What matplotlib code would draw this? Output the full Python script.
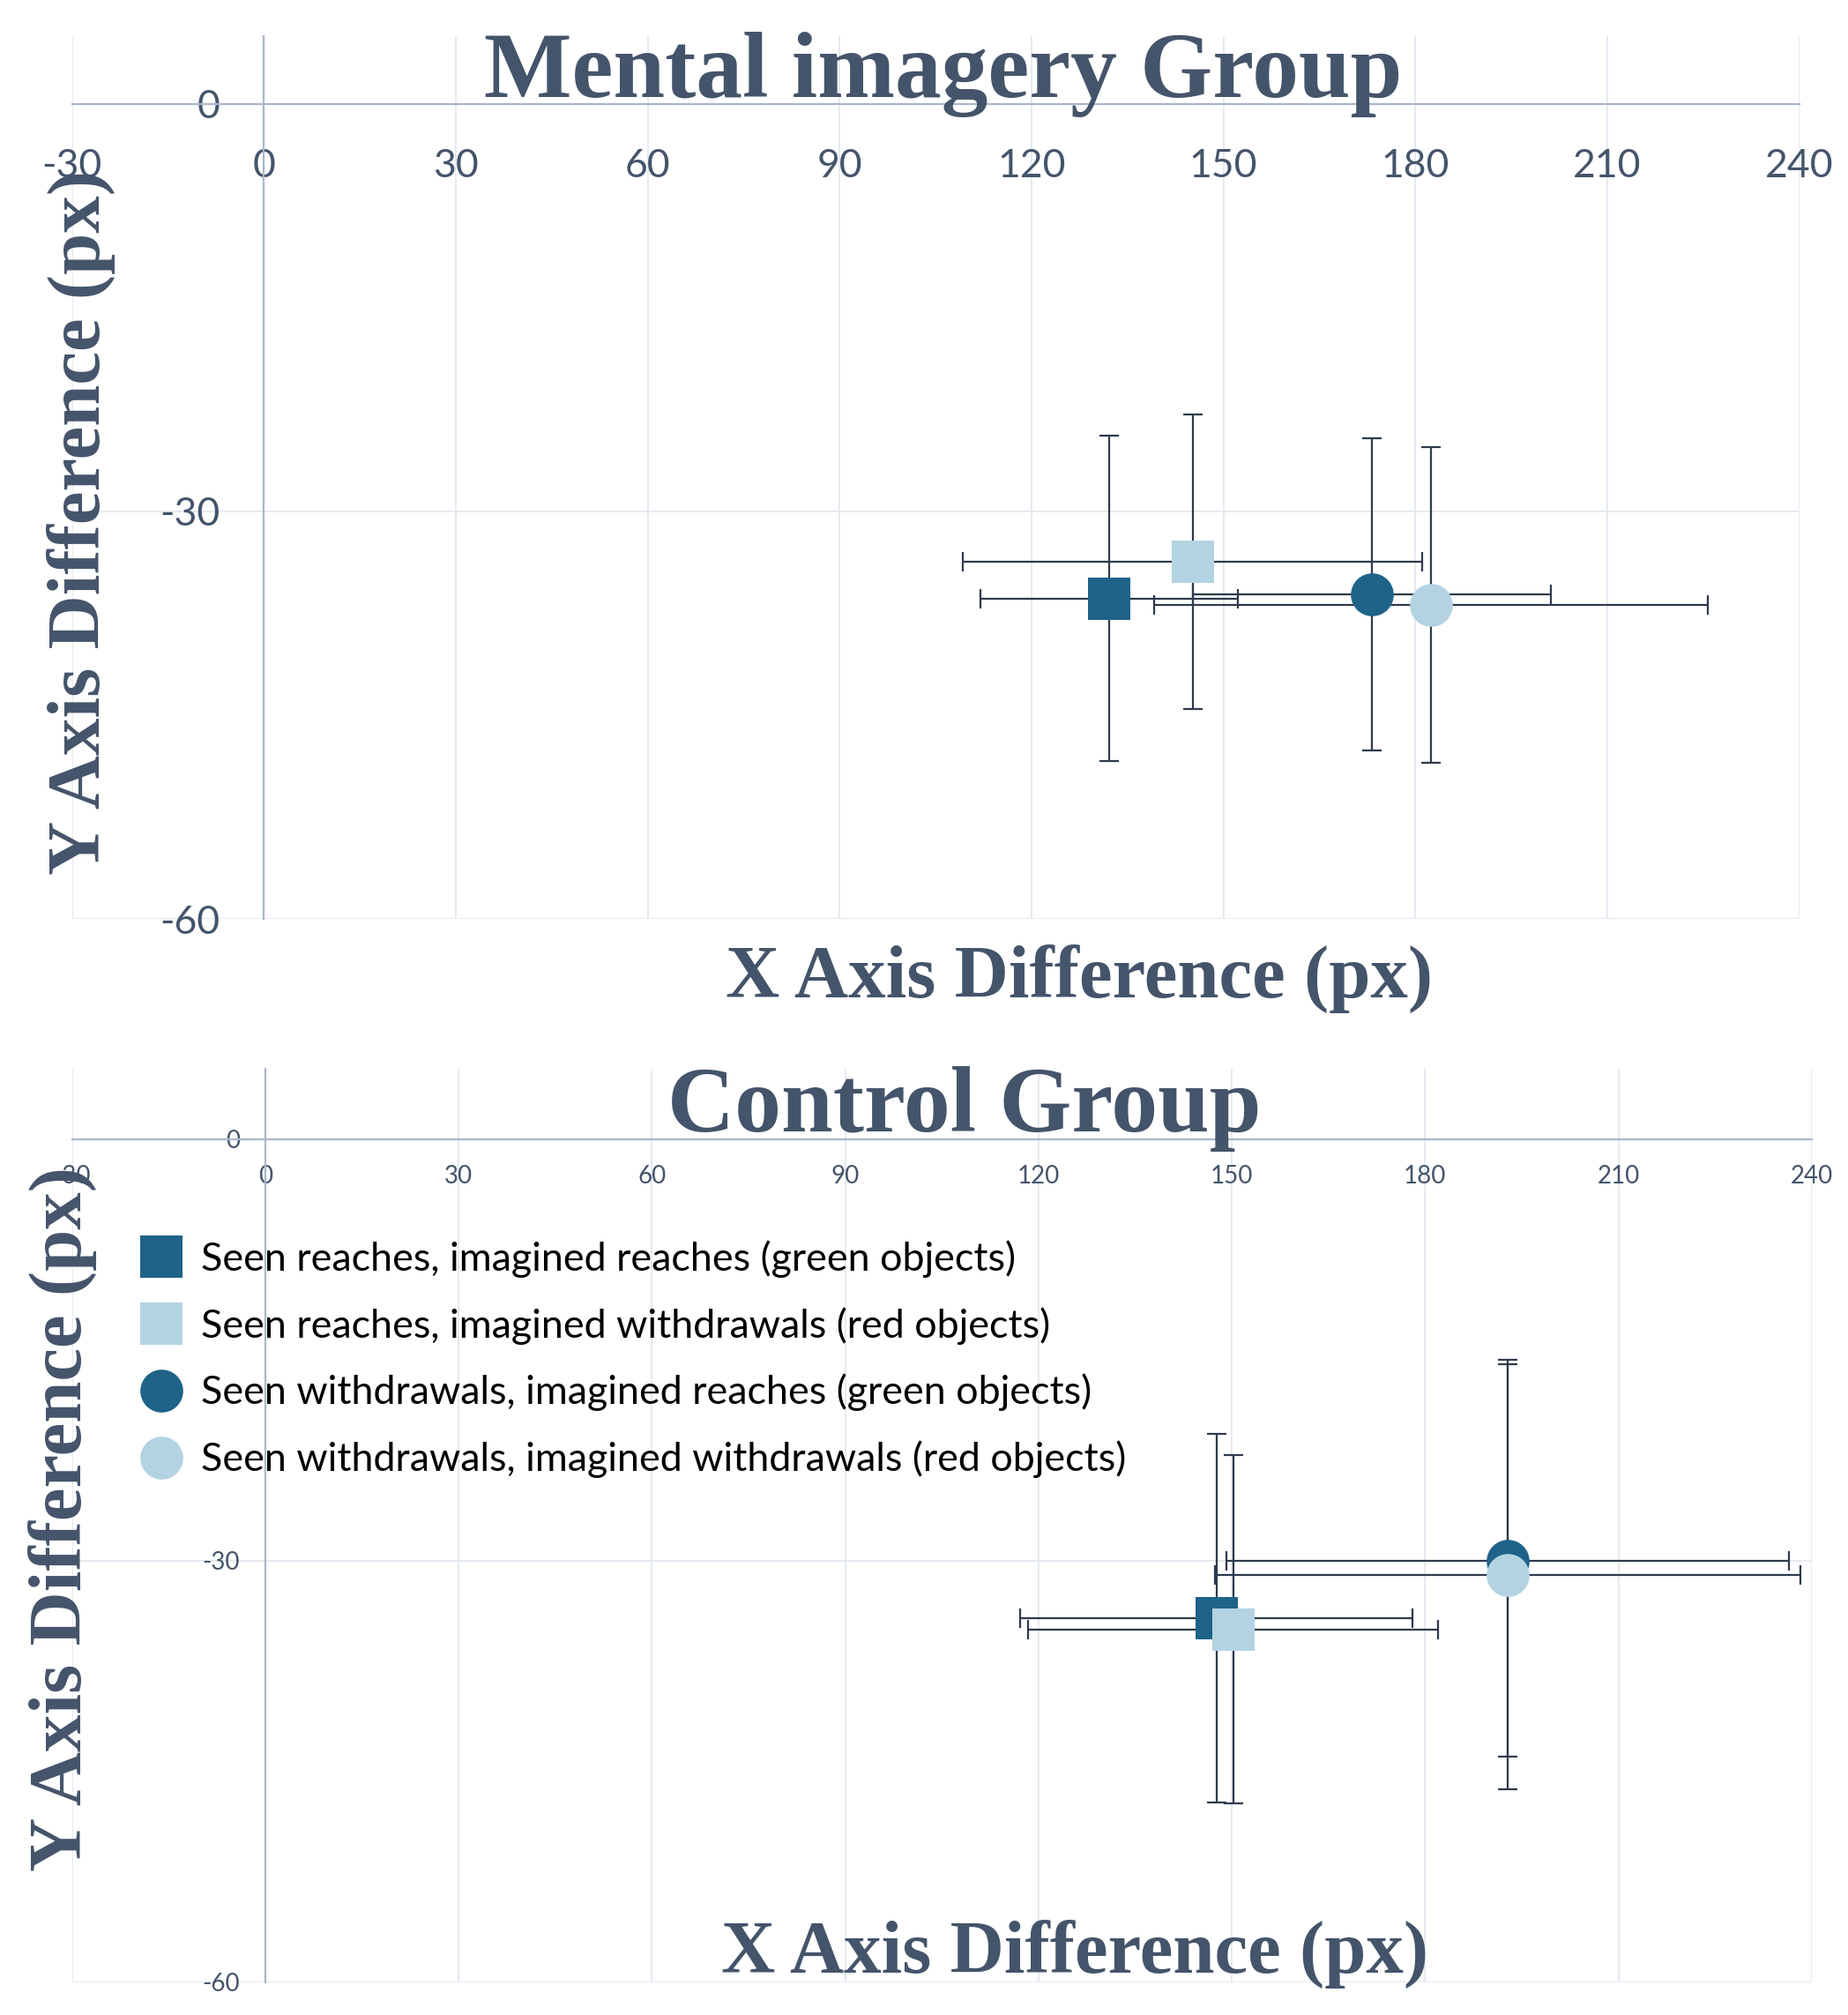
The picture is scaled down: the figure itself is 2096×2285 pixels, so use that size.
import matplotlib.pyplot as plt
from matplotlib.lines import Line2D

plt.rcParams['axes.unicode_minus'] = False

# --- data ---
labels = ["Seen reaches, imagined reaches (green objects)",
          "Seen reaches, imagined withdrawals (red objects)",
          "Seen withdrawals, imagined reaches (green objects)",
          "Seen withdrawals, imagined withdrawals (red objects)"]
markers = ['s', 's', 'o', 'o']
colors = ['#1F6389', '#B3D3E3', '#1F6389', '#B3D3E3']

# Mental imagery group
mi_x = [132.1, 145.2, 173.2, 182.4]
mi_y = [-36.4, -33.7, -36.1, -36.9]
mi_xerr = [20.1, 35.9, 28.0, 43.3]
mi_yerr = [11.95, 10.85, 11.5, 11.6]

# Control group
ct_x = [147.6, 150.2, 192.8, 192.8]
ct_y = [-34.1, -34.9, -30.0, -31.0]
ct_xerr = [30.5, 31.8, 43.7, 45.4]
ct_yerr = [13.1, 12.4, 13.95, 15.3]

x_ticks = list(range(-30, 241, 30))
y_ticks = [-60, -30, 0]

# --- style ---
W, H = 2096, 2285
txt_color = '#44546A'
grid_color = '#E3E8F0'
zero_color = '#A9B6CB'
err_color = '#2E3A4E'
tick_font = 'Lato'
title_font = 'Liberation Serif'


def fx(px):
    return px / W


def fy(py):
    return 1 - py / H


def draw_panel(ax, xs, ys, xerrs, yerrs, tick_size, tick_pad):
    for i in range(len(xs)):
        ax.errorbar(xs[i], ys[i], xerr=xerrs[i], yerr=yerrs[i], fmt='none',
                    ecolor=err_color, elinewidth=1.6, capsize=8, capthick=1.6,
                    zorder=3)
    for i in range(len(xs)):
        ax.plot(xs[i], ys[i], marker=markers[i], ms=35, color=colors[i],
                mec=colors[i], mew=0, ls='none', zorder=4 + i)
    ax.set_xlim(-30, 240)
    ax.set_ylim(-60, 5)
    ax.set_xticks(x_ticks)
    ax.set_yticks(y_ticks)
    ax.grid(True, color=grid_color, lw=1.3)
    ax.set_axisbelow(True)
    for s in ['top', 'right']:
        ax.spines[s].set_visible(False)
    ax.spines['left'].set_position(('data', 0))
    ax.spines['bottom'].set_position(('data', 0))
    for s in ['left', 'bottom']:
        ax.spines[s].set_color(zero_color)
        ax.spines[s].set_linewidth(1.6)
        ax.spines[s].set_zorder(2)
    ax.tick_params(length=0, pad=tick_pad, labelsize=tick_size,
                   labelcolor=txt_color)
    for lab in ax.get_xticklabels() + ax.get_yticklabels():
        lab.set_family(tick_font)


fig = plt.figure(figsize=(W / 100, H / 100), dpi=100)

# top panel
ax1 = fig.add_axes([fx(81.6), fy(1042.2), fx(2040.6) - fx(81.6),
                    fy(40.5) - fy(1042.2)])
draw_panel(ax1, mi_x, mi_y, mi_xerr, mi_yerr, 32, 36)

# bottom panel
ax2 = fig.add_axes([fx(81.7), fy(2247.7), fx(2054.8) - fx(81.7),
                    fy(1212) - fy(2247.7)])
draw_panel(ax2, ct_x, ct_y, ct_xerr, ct_yerr, 20, 21)

# titles
title_kw = dict(family=title_font, weight='bold', color=txt_color)
fig.text(fx(1070), fy(110), "Mental imagery Group", fontsize=76,
         ha='center', va='baseline', **title_kw)
fig.text(fx(1094), fy(1283), "Control Group", fontsize=76,
         ha='center', va='baseline', **title_kw)
fig.text(fx(1224), fy(1131), "X Axis Difference (px)", fontsize=61,
         ha='center', va='baseline', **title_kw)
fig.text(fx(1219), fy(2237), "X Axis Difference (px)", fontsize=61,
         ha='center', va='baseline', **title_kw)
fig.text(fx(131), fy(592), "Y Axis Difference (px)", fontsize=61,
         rotation=90, ha='right', va='center', **title_kw)
fig.text(fx(110), fy(1723), "Y Axis Difference (px)", fontsize=61,
         rotation=90, ha='right', va='center', **title_kw)

# legend
handles = [Line2D([], [], marker=markers[i], ms=35, color=colors[i], mew=0,
                  ls='none') for i in range(4)]
leg = ax2.legend(handles, labels, loc='upper left',
                 bbox_to_anchor=(fx(158), fy(1406)),
                 bbox_transform=fig.transFigure, frameon=False,
                 prop={'family': tick_font, 'size': 32.3}, borderpad=0,
                 borderaxespad=0, handlelength=1.12, handletextpad=0.45,
                 labelspacing=0.74)
for t in leg.get_texts():
    t.set_color('black')

fig.savefig('out.png', dpi=100)
